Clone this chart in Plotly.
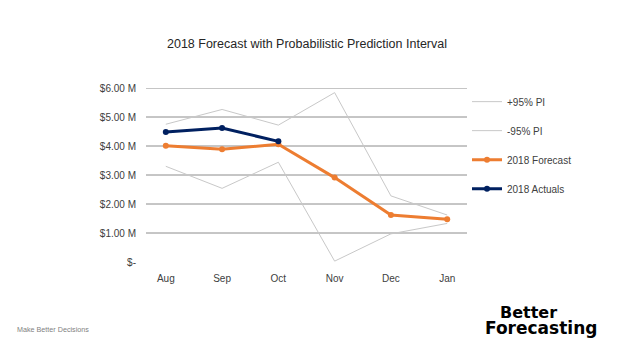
import plotly.graph_objects as go

months = ["Aug", "Sep", "Oct", "Nov", "Dec", "Jan"]
upper_pi = [4.75, 5.26, 4.72, 5.84, 2.28, 1.62]
lower_pi = [3.30, 2.54, 3.44, 0.03, 0.97, 1.33]
forecast = [4.01, 3.89, 4.06, 2.91, 1.62, 1.47]
actual_months = ["Aug", "Sep", "Oct"]
actuals = [4.48, 4.62, 4.16]
tick_vals = [0, 1, 2, 3, 4, 5, 6]
tick_text = ["$-", "$1.00 M", "$2.00 M", "$3.00 M", "$4.00 M", "$5.00 M", "$6.00 M"]

FONT = "Liberation Sans"
LOGO_FONT = "DejaVu Sans"

fig = go.Figure()
fig.add_trace(go.Scatter(x=months, y=upper_pi, mode="lines", name="+95% PI",
                         line=dict(color="#C8C8C8", width=1), legendgroup="a"))
fig.add_trace(go.Scatter(x=months, y=lower_pi, mode="lines", name="-95% PI",
                         line=dict(color="#C8C8C8", width=1), legendgroup="b"))
fig.add_trace(go.Scatter(x=months, y=forecast, mode="lines+markers", name="2018 Forecast",
                         line=dict(color="#ED7D31", width=3),
                         marker=dict(color="#ED7D31", size=6), legendgroup="c"))
fig.add_trace(go.Scatter(x=actual_months, y=actuals, mode="lines+markers", name="2018 Actuals",
                         line=dict(color="#002060", width=3),
                         marker=dict(color="#002060", size=6), legendgroup="d"))

for v in tick_vals[1:]:
    fig.add_shape(type="line", xref="paper", x0=0, x1=1, yref="y", y0=v, y1=v,
                  line=dict(color="#8C8C8C", width=1), layer="below")

fig.update_layout(
    width=624, height=352,
    margin=dict(l=146, r=157, t=88, b=90),
    paper_bgcolor="white", plot_bgcolor="white",
    font=dict(family=FONT, size=10, color="#404040"),
    title=dict(text="2018 Forecast with Probabilistic Prediction Interval",
               x=0.492, xanchor="center", y=0.875, yanchor="middle",
               font=dict(family=FONT, size=12.5, color="#262626")),
    xaxis=dict(showgrid=False, showline=False, zeroline=False, ticks="",
               tickfont=dict(size=10, color="#404040"), ticklabelstandoff=9),
    yaxis=dict(range=[0, 6], tickvals=tick_vals, ticktext=tick_text, showgrid=False,
               zeroline=False, showline=False, ticks="",
               tickfont=dict(size=10, color="#404040"), ticklabelstandoff=9),
    legend=dict(x=1.0, xanchor="left", y=1.005, yanchor="top",
                font=dict(size=10, color="#404040"), traceorder="grouped",
                tracegroupgap=10, itemwidth=30, bgcolor="rgba(0,0,0,0)"),
    annotations=[
        dict(text="Make Better Decisions", xref="paper", yref="paper", x=-0.408, y=-0.39,
             xanchor="left", yanchor="middle", showarrow=False,
             font=dict(family=FONT, size=7.2, color="#7F7F7F")),
        dict(text="<b>Better</b>", xref="paper", yref="paper", x=1.097, y=-0.292,
             xanchor="left", yanchor="middle", showarrow=False,
             font=dict(family=LOGO_FONT, size=16, color="black")),
        dict(text="<b>Forecasting</b>", xref="paper", yref="paper", x=1.05, y=-0.382,
             xanchor="left", yanchor="middle", showarrow=False,
             font=dict(family=LOGO_FONT, size=17, color="black")),
    ],
)

fig.write_html("out.html")
